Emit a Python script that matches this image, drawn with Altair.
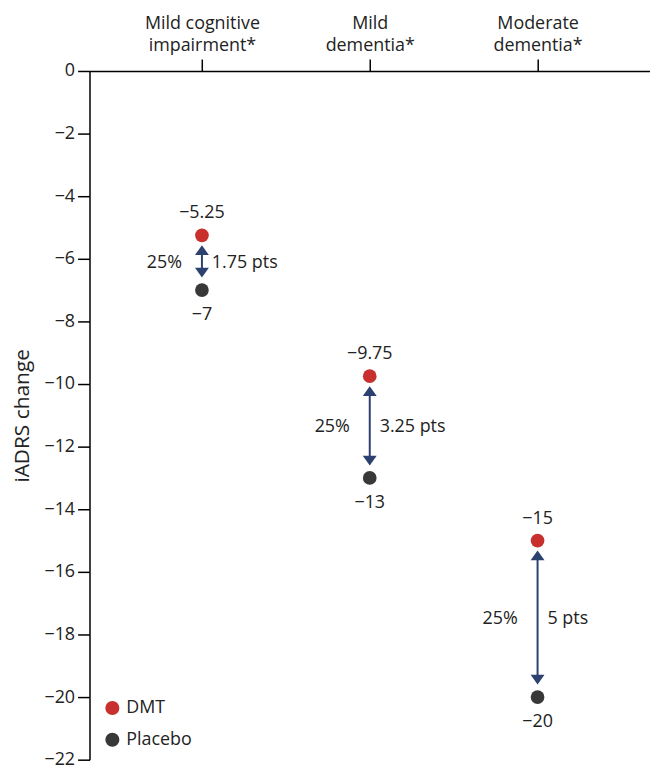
import altair as alt
import pandas as pd

categories = ["Mild cognitive impairment*", "Mild dementia*", "Moderate dementia*"]
dmt = [-5.25, -9.75, -15]
placebo = [-7, -13, -20]
pct_labels = ["25%", "25%", "25%"]
pts_labels = ["1.75 pts", "3.25 pts", "5 pts"]
groups = ["DMT", "Placebo"]
group_colors = ["#c8302d", "#383838"]
y_ticks = [0, -2, -4, -6, -8, -10, -12, -14, -16, -18, -20, -22]

NAVY = "#2c4170"
FONT = "Open Sans"
FS = 18

wide = pd.DataFrame({"category": categories, "dmt": dmt, "placebo": placebo,
                     "pct": pct_labels, "pts": pts_labels})
long = pd.concat([
    pd.DataFrame({"category": categories, "group": groups[0], "value": dmt}),
    pd.DataFrame({"category": categories, "group": groups[1], "value": placebo}),
], ignore_index=True)

x_enc = alt.X(
    "category:N", sort=categories,
    scale=alt.Scale(type="point", padding=0.67),
    axis=alt.Axis(
        orient="top", title=None, labelAngle=0,
        labelExpr="[slice(datum.label, 0, lastindexof(datum.label, ' ')), slice(datum.label, lastindexof(datum.label, ' ') + 1)]",
        labelFontSize=FS, labelLineHeight=22, labelBaseline="bottom",
        tickSize=12, labelPadding=27, domainColor="black", tickColor="black",
        domainWidth=1.5, tickWidth=1.5, labelColor="#222222", grid=False,
    ),
)

y_scale = alt.Scale(domain=[-22, 0], nice=False, zero=False)
y_axis = alt.Axis(
    values=y_ticks, title="iADRS change", grid=False, format="~f",
    labelFontSize=FS, tickSize=12, labelPadding=3, domainColor="black",
    tickColor="black", domainWidth=1.5, tickWidth=1.5, labelColor="#222222",
    titleFontSize=21, titleFontWeight="normal", titleColor="#222222",
    titleX=-67, titleBaseline="middle",
)


def yq(field):
    return alt.Y(field, type="quantitative", scale=y_scale, axis=y_axis, title="iADRS change")


base_w = alt.Chart(wide)

rule = base_w.mark_rule(color=NAVY, strokeWidth=2, yOffset=13, y2Offset=-15).encode(
    x=x_enc, y=yq("dmt"), y2="placebo:Q")

up = base_w.mark_point(shape="M0,-0.7L1,0.7L-1,0.7Z", filled=True, size=196,
                       color=NAVY, opacity=1, yOffset=15).encode(x=x_enc, y=yq("dmt"))
down = base_w.mark_point(shape="M-1,-0.7L1,-0.7L0,0.7Z", filled=True, size=196,
                         color=NAVY, opacity=1, yOffset=-17.5).encode(x=x_enc, y=yq("placebo"))

points = alt.Chart(long).mark_circle(size=190, opacity=1).encode(
    x=x_enc, y=yq("value"),
    color=alt.Color("group:N", scale=alt.Scale(domain=groups, range=group_colors),
                    legend=alt.Legend(orient="none", legendX=14, legendY=632, title=None,
                                      labelFontSize=FS, symbolSize=200, labelOffset=5,
                                      rowPadding=14, padding=0, symbolType="circle",
                                      symbolStrokeWidth=0, symbolOpacity=1,
                                      labelColor="#222222")),
)

dmt_lab = base_w.mark_text(dy=-22, fontSize=FS, color="#222222").encode(
    x=x_enc, y=yq("dmt"), text=alt.Text("dmt:Q", format="~f"))
pl_lab = base_w.mark_text(dy=25, fontSize=FS, color="#222222").encode(
    x=x_enc, y=yq("placebo"), text=alt.Text("placebo:Q", format="~f"))

mid = base_w.transform_calculate(mid="(datum.dmt + datum.placebo) / 2")
pct_lab = mid.mark_text(align="right", dx=-20, fontSize=FS, color="#222222").encode(
    x=x_enc, y=yq("mid"), text="pct:N")
pts_lab = mid.mark_text(align="left", dx=10, fontSize=FS, color="#222222").encode(
    x=x_enc, y=yq("mid"), text="pts:N")

chart = alt.layer(rule, up, down, points, dmt_lab, pl_lab, pct_lab, pts_lab).properties(
    width=564, height=693,
    autosize=alt.AutoSizeParams(type="none"),
    padding={"left": 82, "top": 61, "right": 0, "bottom": 7},
).configure(font=FONT).configure_view(stroke=None).configure_axis(
    labelFont=FONT, titleFont=FONT).configure_legend(labelFont=FONT).configure_text(font=FONT)

chart.save("out.html", embed_options={"renderer": "svg", "actions": False})
